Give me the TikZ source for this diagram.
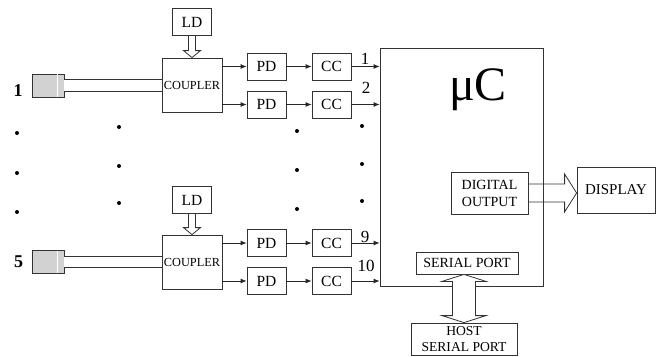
\documentclass[tikz,border=0pt]{standalone}
\usepackage{fontspec}
\setmainfont{Liberation Serif}
\usetikzlibrary{arrows.meta,calc}

\begin{document}
\begin{tikzpicture}[
    x=1pt, y=-1pt,
    box/.style={draw=black!80, line width=0.8pt, inner sep=0pt, minimum width=39pt, minimum height=27pt, font=\fontsize{15.5}{17}\selectfont},
    coupler/.style={box, minimum width=60pt, minimum height=54pt, font=\fontsize{12.3}{14}\selectfont},
    fiber/.style={draw=black!80, line width=0.8pt, fill=gray!35, minimum width=32pt, minimum height=23pt, inner sep=0pt},
    fibreline/.style={draw=black!80, line width=0.8pt, double=white, double distance=10.5pt},
    sig/.style={draw=black!85, line width=0.8pt, -{Latex[length=6pt,width=5pt]}},
    fat/.style={draw=black!80, line width=0.8pt},
    chan/.style={font=\fontsize{17}{19}\selectfont, anchor=base, inner sep=0pt},
    port/.style={font=\fontsize{18}{20}\selectfont\bfseries, anchor=base, inner sep=0pt}
]
\useasboundingbox (0,0) rectangle (663,356);

% Microcontroller
\node[draw=black!80, line width=0.8pt, minimum width=163pt, minimum height=238pt, inner sep=0pt] (uc) at (461.5,167) {};
\node[anchor=base, inner sep=0pt, font=\fontsize{48}{50}\selectfont] (uclabel) at (478,100) {μC};

% Channel 1
\node[box] (LDa) at (192,22) {LD};
\node[coupler] (coupa) at (192,85) {COUPLER};
\node[fiber] (fiba) at (48,85.5) {};
\draw[white, line width=0.8pt] ($(fiba.north)+(9,0.6)$) -- ($(fiba.south)+(9,-0.6)$);
\draw[fibreline] (fiba.east) -- (fiba.east -| coupa.west);
\node[port] (na) at (18,96) {1};
\node[box] (PDa) at (266.5,66.5) {PD};
\node[box] (PDb) at (266.5,104.5) {PD};
\node[box] (CCa) at (331.5,66.5) {CC};
\node[box] (CCb) at (331.5,104.5) {CC};

% Channel 5
\node[box] (LDb) at (192,200) {LD};
\node[coupler] (coupb) at (192,262) {COUPLER};
\node[fiber] (fibb) at (48,262) {};
\draw[white, line width=0.8pt] ($(fibb.north)+(9,0.6)$) -- ($(fibb.south)+(9,-0.6)$);
\draw[fibreline] (fibb.east) -- (fibb.east -| coupb.west);
\node[port] (nb) at (18.5,267) {5};
\node[box] (PDc) at (266.5,243) {PD};
\node[box] (PDd) at (266.5,281) {PD};
\node[box] (CCc) at (331.5,243) {CC};
\node[box] (CCd) at (331.5,281) {CC};

% Light diodes into the couplers
\draw[fat] ($(LDa.south)+(-3.5,0)$) -- ($(coupa.north)+(-3.5,-7)$) -- ($(coupa.north)+(-8.5,-7)$) -- (coupa.north) -- ($(coupa.north)+(8.5,-7)$) -- ($(coupa.north)+(3.5,-7)$) -- ($(LDa.south)+(3.5,0)$);
\draw[fat] ($(LDb.south)+(-3.5,0)$) -- ($(coupb.north)+(-3.5,-7)$) -- ($(coupb.north)+(-8.5,-7)$) -- (coupb.north) -- ($(coupb.north)+(8.5,-7)$) -- ($(coupb.north)+(3.5,-7)$) -- ($(LDb.south)+(3.5,0)$);

% Signal paths
\foreach \c/\p/\k in {coupa/PDa/CCa, coupa/PDb/CCb, coupb/PDc/CCc, coupb/PDd/CCd} {
  \draw[sig] (\p.west -| \c.east) -- (\p.west);
  \draw[sig] (\p.east) -- (\k.west);
  \draw[sig] (\k.east) -- (\k.east -| uc.west);
}
\node[chan] (ina) at (365,64) {1};
\node[chan] (inb) at (366,93) {2};
\node[chan] (inc) at (365,242) {9};
\node[chan] (ind) at (366,271) {10};

% Dots
\foreach \x/\y in {17/133, 17/173, 17/212, 119/127, 119/166, 119/203, 297/131, 297/170, 297/209, 362/126, 362/164, 362/201}
  \fill (\x,\y) circle (2pt);

% Outputs
\node[box, minimum width=77pt, minimum height=42pt, align=center, font=\fontsize{14}{17}\selectfont] (dig) at (489.5,193) {DIGITAL\\OUTPUT};
\node[box, minimum width=78pt, minimum height=46pt, font=\fontsize{15}{17}\selectfont] (disp) at (616,190) {DISPLAY};
\coordinate (dtip) at (disp.west |- dig.east);
\draw[fat] ($(dig.east)+(0,-9)$) -- ($(dtip)+(-12,-9)$) -- ($(dtip)+(-12,-19)$) -- (dtip) -- ($(dtip)+(-12,19)$) -- ($(dtip)+(-12,9)$) -- ($(dig.east)+(0,9)$);

\node[box, minimum width=102pt, minimum height=22pt, font=\fontsize{14}{16}\selectfont] (ser) at (467,263) {SERIAL PORT};
\node[box, minimum width=106pt, minimum height=32pt, align=center, font=\fontsize{13.6}{16}\selectfont] (host) at (464,339) {HOST\\SERIAL PORT};
\coordinate (stip) at (host.north |- ser.south);
\draw[fat, fill=white] (stip) -- ($(stip)+(-22,7)$) -- ($(stip)+(-11.5,7)$) -- ($(host.north)+(-11.5,-7)$) -- ($(host.north)+(-22,-7)$) -- (host.north) -- ($(host.north)+(22,-7)$) -- ($(host.north)+(11.5,-7)$) -- ($(stip)+(11.5,7)$) -- ($(stip)+(22,7)$) -- cycle;
\end{tikzpicture}
\end{document}
